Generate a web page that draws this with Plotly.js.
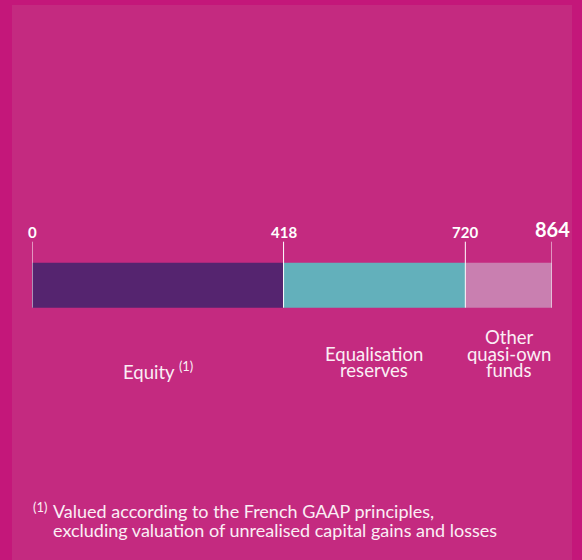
<!DOCTYPE html>
<html><head><meta charset="utf-8">
<script src="https://cdn.plot.ly/plotly-3.0.1.min.js"></script>
<style>
html,body{margin:0;padding:0;background:#c4177a;width:582px;height:560px;overflow:hidden}
#chart{position:absolute;left:12px;top:5px;width:560px;height:555px}
</style></head><body><div id="chart"></div>
<script>
const categories = ["Equity", "Equalisation reserves", "Other quasi-own funds"];
const labelLines = [["Equity <sup>(1)</sup>"], ["Equalisation", "reserves"], ["Other", "quasi-own", "funds"]];
const values = [418, 302, 144];
const colors = ["#55246f", "#63b0bb", "#c97fb0"];
const footnoteMark = "(1)";
const footnoteLines = ["Valued according to the French GAAP principles,", "excluding valuation of unrealised capital gains and losses"];

const FONT = "Lato, 'Open Sans', sans-serif";
const TEXT = "#fbeef5";

// cumulative boundaries
const bounds = [0];
values.forEach(v => bounds.push(bounds[bounds.length - 1] + v));
const tickLabels = bounds.map(String);

// geometry helpers (page pixels -> axis units)
const DIV_TOP = 5, H = 555, PX_PER_Y = 45;
const yMax = 0.5 + (262.7 - DIV_TOP) / PX_PER_Y;
const yMin = yMax - H / PX_PER_Y;
const py = p => yMax - (p - DIV_TOP) / PX_PER_Y;
const PL = 32, PW = 520;
const px = p => (p - PL) / PW;

const traces = categories.map((c, i) => ({
  type: "bar", orientation: "h", name: c,
  y: [0], x: [values[i]], base: [bounds[i]], width: [1],
  marker: {color: colors[i], line: {width: 0}},
  hoverinfo: "skip", showlegend: false
}));

// tick lines
const lx = [], ly = [];
bounds.forEach(b => { lx.push(b, b, null); ly.push(-0.5, py(241.7), null); });
traces.push({type: "scatter", mode: "lines", x: lx, y: ly,
  line: {color: "#ffffff", width: 1}, hoverinfo: "skip", showlegend: false});

const annotations = [];
bounds.forEach((b, i) => {
  const last = i === bounds.length - 1;
  annotations.push({x: b, y: py(243), xref: "x", yref: "y", xanchor: "center", yanchor: "bottom",
    text: "<b>" + tickLabels[i] + "</b>", showarrow: false,
    font: {family: FONT, size: last ? 20 : 15, color: "#ffffff"}});
});
labelLines.forEach((lines, i) => {
  const mid = (bounds[i] + bounds[i + 1]) / 2;
  lines.forEach((t, j) => {
    const k = lines.length - 1 - j;
    annotations.push({x: mid, y: py(370 - k * 16.5), xref: "x", yref: "y", xanchor: "center", yanchor: "middle",
      text: t, showarrow: false, font: {family: FONT, size: 18.5, color: TEXT}});
  });
});
annotations.push({x: px(31), y: py(507), xref: "paper", yref: "y", xanchor: "left", yanchor: "middle",
  text: footnoteMark, showarrow: false, font: {family: FONT, size: 13, color: TEXT}});
footnoteLines.forEach((t, j) => {
  annotations.push({x: px(51), y: py(511 + j * 19), xref: "paper", yref: "y", xanchor: "left", yanchor: "middle",
    text: t, showarrow: false, font: {family: FONT, size: 18, color: TEXT}});
});

const layout = {
  width: 560, height: 555,
  margin: {l: 20, r: 20, t: 0, b: 0, pad: 0},
  paper_bgcolor: "#c42a80", plot_bgcolor: "rgba(0,0,0,0)",
  barmode: "overlay",
  xaxis: {range: [0, bounds[bounds.length - 1]], visible: false, fixedrange: true},
  yaxis: {range: [yMin, yMax], visible: false, fixedrange: true},
  annotations: annotations,
  showlegend: false
};
Plotly.newPlot("chart", traces, layout, {displayModeBar: false, staticPlot: true});
</script></body></html>
